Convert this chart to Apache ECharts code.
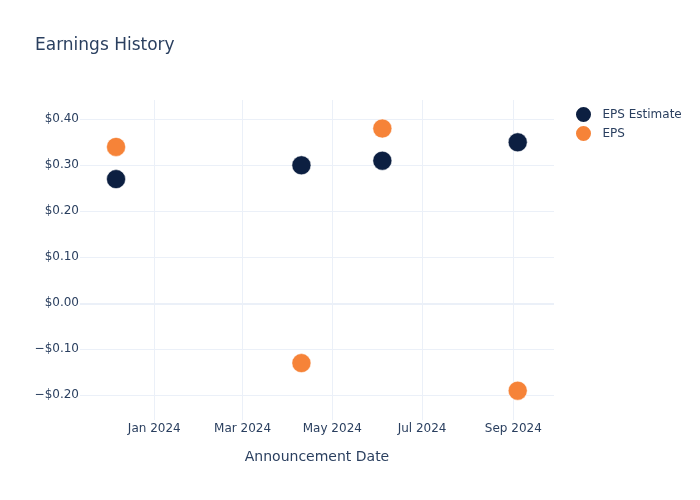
<!DOCTYPE html>
<html>
<head>
<meta charset="utf-8">
<script src="https://cdn.jsdelivr.net/npm/echarts@6/dist/echarts.min.js"></script>
<style>html,body{margin:0;padding:0;background:#fff}#c{width:700px;height:500px}</style>
</head>
<body>
<div id="c"></div>
<script>
var announcementDates = ['2023-12-06', '2024-04-10', '2024-06-04', '2024-09-04'];
var epsEstimate = [0.27, 0.30, 0.31, 0.35];
var epsActual = [0.34, -0.13, 0.38, -0.19];
var yTicks = [-0.2, -0.1, 0, 0.1, 0.2, 0.3, 0.4];
var xTickDates = ['2024-01-01', '2024-03-01', '2024-05-01', '2024-07-01', '2024-09-01'];
var monthNames = ['Jan','Feb','Mar','Apr','May','Jun','Jul','Aug','Sep','Oct','Nov','Dec'];

function ts(s) { var p = s.split('-'); return Date.UTC(+p[0], +p[1] - 1, +p[2]); }
var xTicks = xTickDates.map(ts);
function pairs(vals) { return announcementDates.map(function (d, i) { return [ts(d), vals[i]]; }); }

var txt = '#2a3f5f';
var font = 'DejaVu Sans';
var chart = echarts.init(document.getElementById('c'), null, { renderer: 'canvas' });
chart.setOption({
  animation: false,
  backgroundColor: '#fff',
  textStyle: { fontFamily: font, color: txt },
  title: {
    text: 'Earnings History', left: 35, top: 37, padding: 0,
    textStyle: { fontFamily: font, fontSize: 17, fontWeight: 'normal', color: txt }
  },
  legend: {
    orient: 'vertical', left: 574, top: 105, padding: 0,
    icon: 'circle', itemWidth: 28, itemHeight: 17, itemGap: 0,
    itemStyle: { opacity: 1 },
    textStyle: { fontFamily: font, fontSize: 12, color: txt, lineHeight: 17 },
    data: ['EPS Estimate', 'EPS']
  },
  grid: { left: 80, right: 146, top: 100, bottom: 80, containLabel: false },
  xAxis: {
    type: 'value',
    min: Date.UTC(2023, 10, 11, 12),
    max: Date.UTC(2024, 8, 28, 16),
    name: 'Announcement Date', nameLocation: 'middle', nameGap: 30,
    nameTextStyle: { fontFamily: font, fontSize: 14, color: txt },
    axisLine: { show: false },
    axisTick: { show: false, customValues: xTicks },
    axisLabel: {
      customValues: xTicks, margin: 3, fontFamily: font, fontSize: 12, color: txt,
      formatter: function (v) { var d = new Date(v); return monthNames[d.getUTCMonth()] + ' ' + d.getUTCFullYear(); }
    },
    splitLine: { show: true, lineStyle: { color: '#ebf0f8', width: 1 } }
  },
  yAxis: {
    type: 'value',
    min: -0.2537, max: 0.442,
    axisLine: { show: false },
    axisTick: { show: false, customValues: yTicks },
    axisLabel: {
      customValues: yTicks, margin: 1, fontFamily: font, fontSize: 12, color: txt,
      verticalAlign: 'middle', padding: [4, 0, 0, 0],
      formatter: function (v) { var a = Math.abs(v).toFixed(2); return (v < -1e-9 ? '\u2212$' : '$') + a; }
    },
    splitLine: { show: true, lineStyle: { color: '#ebf0f8', width: 1 } }
  },
  series: [
    {
      name: 'EPS Estimate', type: 'scatter', symbol: 'circle', symbolSize: 19,
      itemStyle: { color: '#0c1f41', opacity: 1, borderColor: '#fff', borderWidth: 0.5 },
      data: pairs(epsEstimate),
      markLine: {
        silent: true, symbol: 'none', label: { show: false }, z: 1,
        lineStyle: { color: '#ebf0f8', width: 2, type: 'solid' },
        data: [{ yAxis: 0 }]
      }
    },
    {
      name: 'EPS', type: 'scatter', symbol: 'circle', symbolSize: 19,
      itemStyle: { color: '#f68338', opacity: 1, borderColor: '#fff', borderWidth: 0.5 },
      data: pairs(epsActual)
    }
  ]
});
</script>
</body>
</html>
